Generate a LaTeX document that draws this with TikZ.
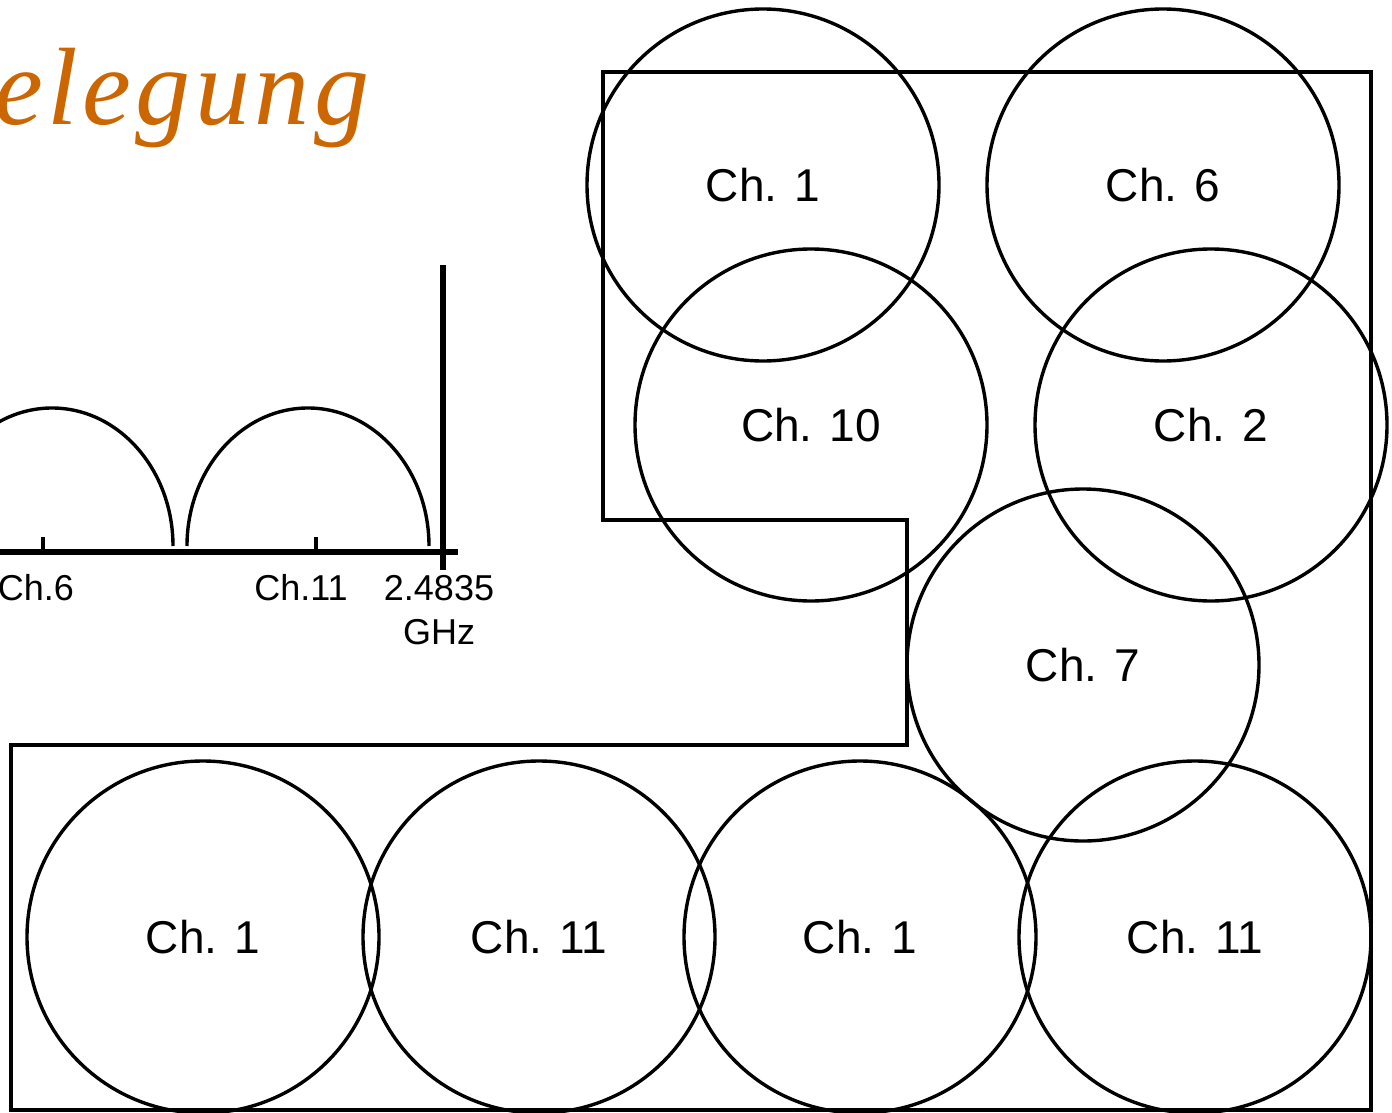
\documentclass[tikz,border=0pt]{standalone}
\usepackage{fontspec}
\setmainfont{Liberation Sans}
\newfontfamily\titlefont[LetterSpace=4]{Liberation Serif}
\definecolor{titleorange}{RGB}{204,102,0}
\begin{document}
\begin{tikzpicture}[x=0.5pt,y=-0.5pt,
  cell/.style={circle,draw,line width=1.7pt,minimum size=176pt,inner sep=0pt,
               font=\fontsize{23pt}{26pt}\selectfont},
  wall/.style={line width=1.6pt},
  axisline/.style={line width=2.8pt},
  ticklabel/.style={font=\fontsize{18pt}{21pt}\selectfont,inner sep=0pt},
  lobe/.style={line width=1.7pt}]
\useasboundingbox (0,0) rectangle (1392,1113);
\clip (0,0) rectangle (1392,1113);

% title
\node[anchor=base west,inner sep=0pt,text=titleorange,
      font=\titlefont\itshape\fontsize{55pt}{60pt}\selectfont] (title) at (-6,125) {elegung};

% spectrum sketch
\coordinate (axL) at (0,552);
\coordinate (axR) at (458,552);
\coordinate (edgeT) at (443,265);
\coordinate (edgeB) at (443,570);
\draw[axisline] (axL) -- (axR);
\draw[axisline] (edgeT) -- (edgeB);
\coordinate (t6) at (43,537);
\coordinate (t6b) at (43,552);
\coordinate (t11) at (316,537);
\coordinate (t11b) at (316,552);
\draw[line width=1.7pt] (t6) -- (t6b);
\draw[line width=1.7pt] (t11) -- (t11b);
\coordinate (lobeA) at (173,546);
\coordinate (lobeB) at (429,546);
\draw[lobe] (lobeA) arc[start angle=0,end angle=180,x radius=60.5pt,y radius=69pt];
\draw[lobe] (lobeB) arc[start angle=0,end angle=180,x radius=60.5pt,y radius=69pt];
\node[ticklabel] (l6) at (36,588) {Ch.6};
\node[ticklabel] (l11) at (301,588) {Ch.11};
\node[ticklabel] (lf) at (439,588) {2.4835};
\node[ticklabel] (lghz) at (439,632) {GHz};

% floor plan outline
\coordinate (p1) at (603,72);
\coordinate (p2) at (1371,72);
\coordinate (p3) at (1371,1110);
\coordinate (p4) at (11,1110);
\coordinate (p5) at (11,745);
\coordinate (p6) at (907,745);
\coordinate (p7) at (907,520);
\coordinate (p8) at (603,520);
\draw[wall] (p1) -- (p2) -- (p3) -- (p4) -- (p5) -- (p6) -- (p7) -- (p8) -- cycle;

% access point cells
\node[cell] (c1) at (763,185) {Ch. 1};
\node[cell] (c6) at (1163,185) {Ch. 6};
\node[cell] (c10) at (811,425) {Ch. 10};
\node[cell] (c2) at (1211,425) {Ch. 2};
\node[cell] (c7) at (1083,665) {Ch. 7};
\node[cell] (b1) at (203,937) {Ch. 1};
\node[cell] (b2) at (539,937) {Ch. 11};
\node[cell] (b3) at (860,937) {Ch. 1};
\node[cell] (b4) at (1195,937) {Ch. 11};
\end{tikzpicture}
\end{document}
